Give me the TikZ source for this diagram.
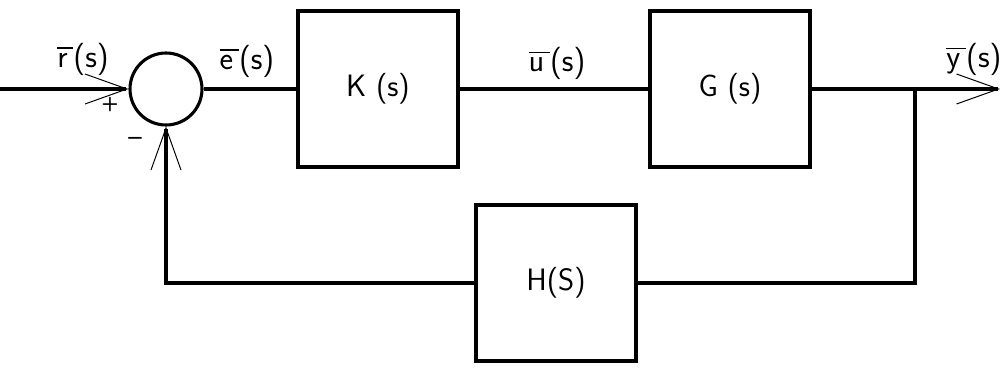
\documentclass[tikz,border=0pt]{standalone}
\usepackage{amsmath}
\usepackage{tikz}
\usetikzlibrary{arrows.meta, positioning}

\newcommand{\bsig}[1]{$\overline{\text{#1}\,}$(s)}

\begin{document}
\begin{tikzpicture}[
    block/.style={draw, line width=3.2pt, minimum width=4cm, minimum height=3.9cm,
                  font=\sffamily\fontsize{22}{26}\selectfont},
    sum/.style={draw, circle, line width=2.2pt, minimum size=1.8cm, inner sep=0pt},
    sig/.style={line width=2.6pt},
    lbl/.style={font=\sffamily\fontsize{23}{27}\selectfont},
    barb/.style={-{Straight Barb[length=1.05cm, width=0.75cm, line width=0.7pt]}}
  ]
    \useasboundingbox (0,0) rectangle (25.1,9.225);
    \node[sum] (sum) at (4.15,7.0) {};
    \node[block] (K) at (9.45,7.0) {K (s)};
    \node[block] (G) at (18.25,7.0) {G (s)};
    \node[block] (H) at (13.9,2.15) {H(S)};
    \coordinate (in) at (0,7.0);
    \coordinate (out) at (25.0,7.0);
    \coordinate (branch) at (22.875,7.0);

    \draw[sig, barb] (in) -- (sum.west);
    \draw[sig] (sum.east) -- (K.west);
    \draw[sig] (K.east) -- (G.west);
    \draw[sig, barb] (G.east) -- (out);
    \draw[sig] (branch) |- (H.east);
    \draw[sig, barb] (H.west) -| (sum.south);

    \node[lbl] (rlbl) at (2.075,7.75) {\bsig{r}};
    \node[lbl] (elbl) at (6.175,7.7) {\bsig{e}};
    \node[lbl] (ulbl) at (13.925,7.65) {\bsig{u}};
    \node[lbl] (ylbl) at (24.35,7.75) {\bsig{y}};
    \node[font=\sffamily\bfseries\fontsize{14}{16}\selectfont] (plus) at (2.75,6.6) {+};
    \node[font=\sffamily\bfseries\fontsize{18}{20}\selectfont] (minus) at (3.375,5.7) {--};
\end{tikzpicture}
\end{document}
